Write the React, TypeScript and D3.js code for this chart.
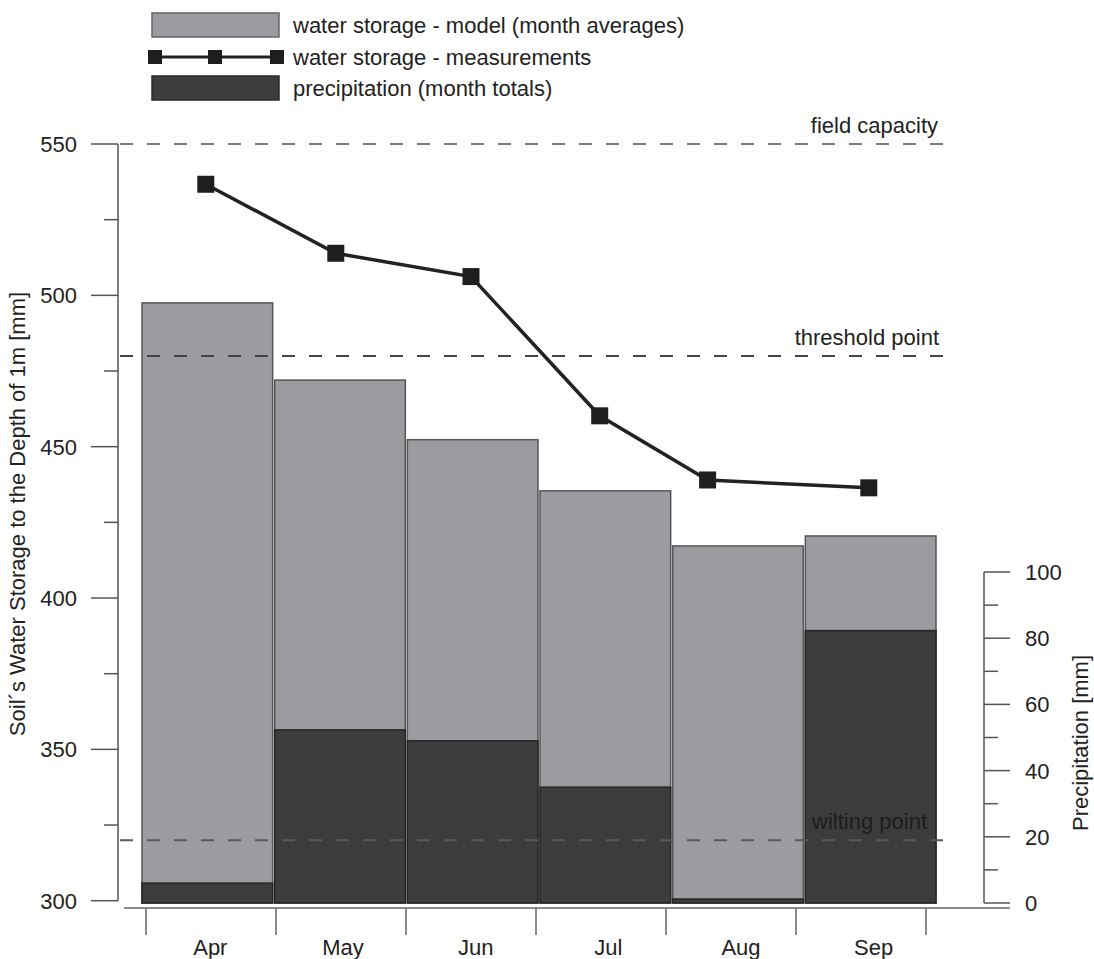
import { useEffect, useRef } from "react";
import * as d3 from "d3";

// months on the x axis
const months = ["Apr", "May", "Jun", "Jul", "Aug", "Sep"];
// modelled soil water storage, month averages [mm]
const modelStorage = [497.5, 472, 452.3, 435.4, 417.2, 420.5];
// precipitation month totals [mm]
const precipitation = [6, 52.3, 49, 35, 1.2, 82.3];
// measured water storage: position in months from start of April, and value [mm]
const measMonth = [0.46, 1.46, 2.5, 3.49, 4.32, 5.56];
const measStorage = [536.7, 513.9, 506.2, 460.2, 439, 436.4];
// reference levels
const refLabels = ["field capacity", "threshold point", "wilting point"];
const refValues = [550, 480, 320];
// ticks
const leftMajor = [300, 350, 400, 450, 500, 550];
const leftMinor = [325, 375, 425, 475, 525];
const rightMajor = [0, 20, 40, 60, 80, 100];
const rightMinor = [10, 30, 50, 70, 90];

const FONT = "'Liberation Sans', Arial, Helvetica, sans-serif";

function Chart() {
  const ref = useRef(null);

  useEffect(() => {
    const svg = d3.select(ref.current);
    svg.selectAll("*").remove();

    const yL = d3.scaleLinear([300, 550], [900.7, 144]);
    const yR = d3.scaleLinear([0, 100], [903, 572]);
    const x = d3.scaleBand(months, [142, 936]).paddingInner(0.015);
    const xt = d3.scaleLinear([0, 6], [146, 926]);

    const g = svg.append("g").attr("font-family", FONT).attr("font-size", 22);

    // model bars
    g.append("g")
      .selectAll("rect")
      .data(months)
      .join("rect")
      .attr("x", d => x(d))
      .attr("width", x.bandwidth())
      .attr("y", (d, i) => yL(modelStorage[i]))
      .attr("height", (d, i) => yR(0) - yL(modelStorage[i]))
      .attr("fill", "#9b9c9f")
      .attr("stroke", "#555")
      .attr("stroke-width", 1.5);

    // precipitation bars
    g.append("g")
      .selectAll("rect")
      .data(months)
      .join("rect")
      .attr("x", d => x(d))
      .attr("width", x.bandwidth())
      .attr("y", (d, i) => yR(precipitation[i]))
      .attr("height", (d, i) => yR(0) - yR(precipitation[i]))
      .attr("fill", "#3c3c3c")
      .attr("stroke", "#262626")
      .attr("stroke-width", 1.5);

    // reference lines
    const refColors = ["#7a7a7a", "#444", "#5a5a5a"];
    const labelEnd = [938, 939, 927];
    refValues.forEach((v, i) => {
      g.append("line")
        .attr("x1", 120)
        .attr("x2", 945)
        .attr("y1", yL(v))
        .attr("y2", yL(v))
        .attr("stroke", refColors[i])
        .attr("stroke-width", 2)
        .attr("stroke-dasharray", "13,14");
      g.append("text")
        .attr("x", labelEnd[i])
        .attr("y", yL(v) - 11)
        .attr("text-anchor", "end")
        .attr("fill", i == 2 ? "#1c1c1c" : "#222")
        .text(refLabels[i]);
    });

    // measurements
    const line = d3.line<number>()
      .x((d, i) => xt(measMonth[i]))
      .y(d => yL(d));
    g.append("path")
      .datum(measStorage)
      .attr("d", line)
      .attr("fill", "none")
      .attr("stroke", "#222")
      .attr("stroke-width", 3.5);
    g.append("g")
      .selectAll("rect")
      .data(measStorage)
      .join("rect")
      .attr("x", (d, i) => xt(measMonth[i]) - 8.5)
      .attr("y", d => yL(d) - 8.5)
      .attr("width", 17)
      .attr("height", 17)
      .attr("fill", "#1e1e1e");

    // left axis
    const left = g.append("g").attr("stroke", "#555").attr("stroke-width", 1.5);
    left.append("line").attr("x1", 118).attr("x2", 118).attr("y1", yL(550)).attr("y2", yL(300));
    left.selectAll(".maj").data(leftMajor).join("line")
      .attr("x1", 91).attr("x2", 118).attr("y1", d => yL(d)).attr("y2", d => yL(d));
    left.selectAll(".min").data(leftMinor).join("line")
      .attr("x1", 104).attr("x2", 118).attr("y1", d => yL(d)).attr("y2", d => yL(d));
    g.append("g").selectAll("text").data(leftMajor).join("text")
      .attr("x", 77)
      .attr("y", d => yL(d) + 8)
      .attr("text-anchor", "end")
      .attr("fill", "#222")
      .text(d => d);
    g.append("text")
      .attr("transform", `translate(25,${514}) rotate(-90)`)
      .attr("text-anchor", "middle")
      .attr("fill", "#222")
      .text("Soil´s Water Storage to the Depth of 1m [mm]");

    // right axis
    const right = g.append("g").attr("stroke", "#555").attr("stroke-width", 1.5);
    right.append("line").attr("x1", 984).attr("x2", 984).attr("y1", yR(0)).attr("y2", yR(100));
    right.selectAll(".maj").data(rightMajor).join("line")
      .attr("x1", 984).attr("x2", 1010).attr("y1", d => yR(d)).attr("y2", d => yR(d));
    right.selectAll(".min").data(rightMinor).join("line")
      .attr("x1", 984).attr("x2", 998).attr("y1", d => yR(d)).attr("y2", d => yR(d));
    g.append("g").selectAll("text").data(rightMajor).join("text")
      .attr("x", 1025)
      .attr("y", d => yR(d) + 8)
      .attr("fill", "#222")
      .text(d => d);
    g.append("text")
      .attr("transform", `translate(1088,${743}) rotate(-90)`)
      .attr("text-anchor", "middle")
      .attr("fill", "#222")
      .text("Precipitation [mm]");

    // bottom axis
    const bottom = g.append("g").attr("stroke", "#666").attr("stroke-width", 1.5);
    bottom.append("line").attr("x1", 124).attr("x2", 1010).attr("y1", 908).attr("y2", 908);
    bottom.selectAll(".tk").data(d3.range(7)).join("line")
      .attr("x1", d => xt(d)).attr("x2", d => xt(d)).attr("y1", 908).attr("y2", 935);
    g.append("g").selectAll("text").data(months).join("text")
      .attr("x", d => x(d) + x.bandwidth() / 2 + 3)
      .attr("y", 955)
      .attr("text-anchor", "middle")
      .attr("fill", "#222")
      .text(d => d);

    // legend
    const lg = g.append("g");
    lg.append("rect").attr("x", 152).attr("y", 13).attr("width", 127).attr("height", 24)
      .attr("fill", "#9b9c9f").attr("stroke", "#666").attr("stroke-width", 1.5);
    lg.append("line").attr("x1", 155).attr("x2", 277).attr("y1", 57).attr("y2", 57)
      .attr("stroke", "#222").attr("stroke-width", 3);
    lg.selectAll(".sq").data([155, 215, 277]).join("rect")
      .attr("x", d => d - 7).attr("y", 50).attr("width", 14).attr("height", 14)
      .attr("fill", "#1e1e1e");
    lg.append("rect").attr("x", 152).attr("y", 76).attr("width", 127).attr("height", 24)
      .attr("fill", "#3c3c3c").attr("stroke", "#2a2a2a").attr("stroke-width", 1.5);
    const legendText = [
      "water storage - model (month averages)",
      "water storage - measurements",
      "precipitation (month totals)",
    ];
    lg.selectAll("text").data(legendText).join("text")
      .attr("x", 293)
      .attr("y", (d, i) => 33 + i * 31.5)
      .attr("fill", "#222")
      .text(d => d);
  }, []);

  return (
    <svg
      ref={ref}
      width={1094}
      height={959}
      style={{ position: "absolute", left: 0, top: 0, background: "#fff" }}
    />
  );
}

export default function App() {
  return <Chart />;
}
